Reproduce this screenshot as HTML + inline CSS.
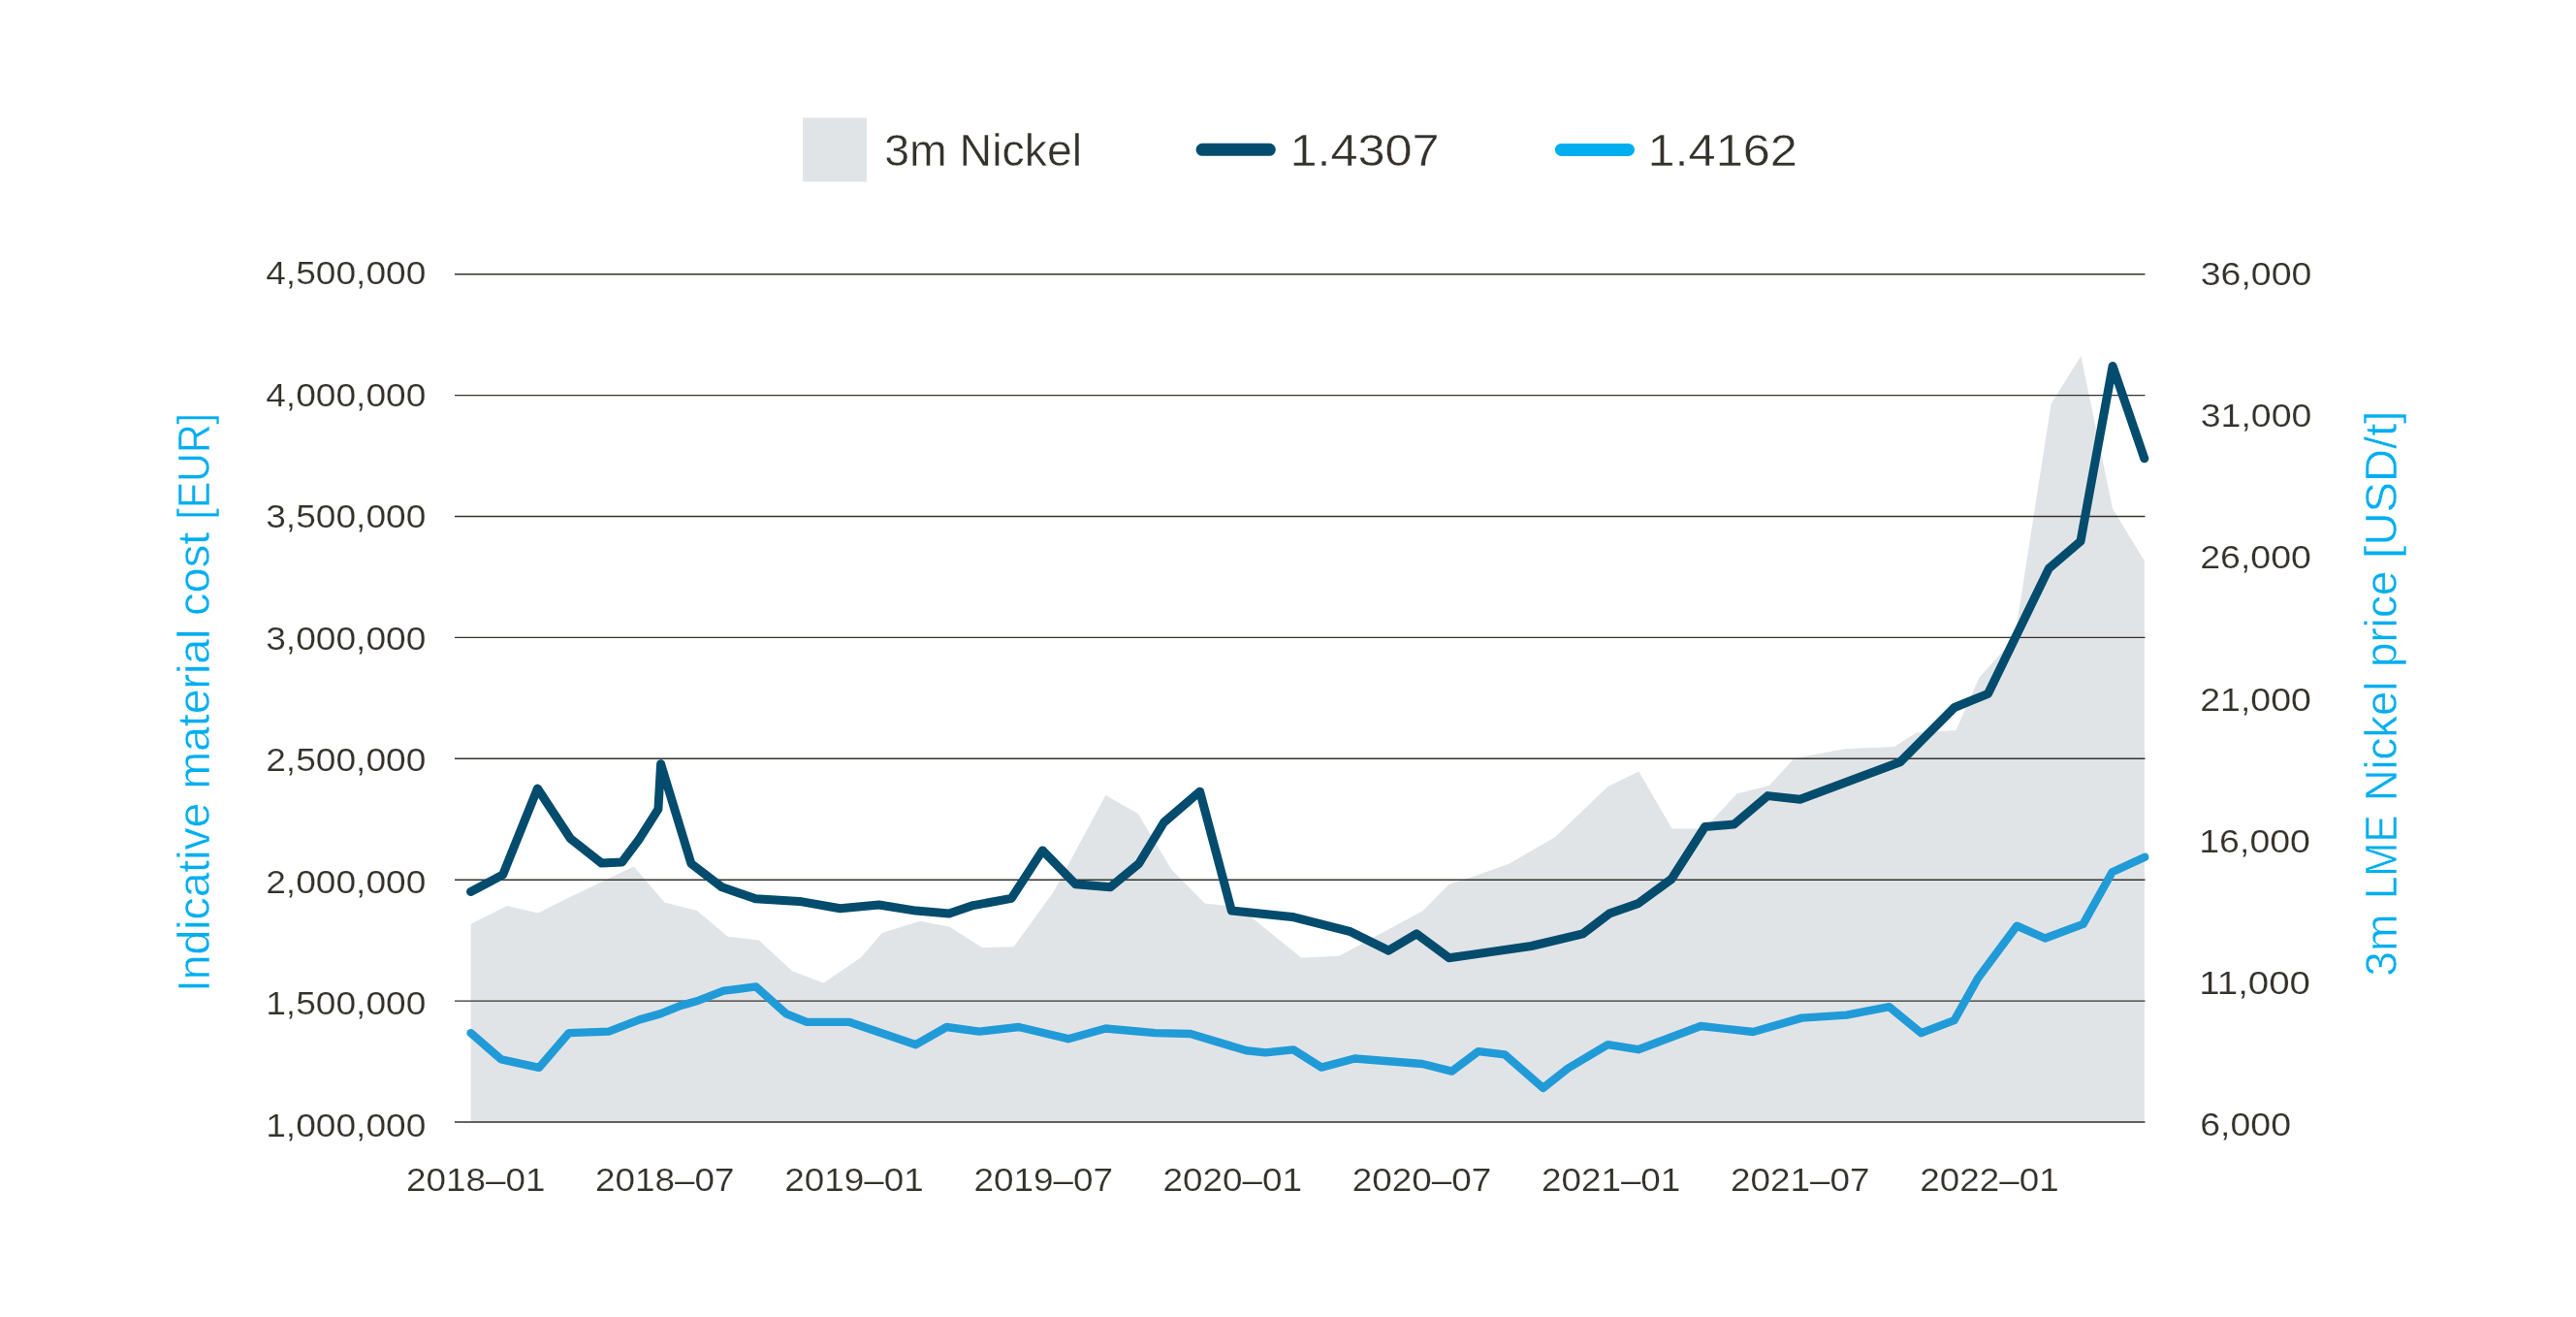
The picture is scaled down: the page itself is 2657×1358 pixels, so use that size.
<!DOCTYPE html>
<html><head><meta charset="utf-8"><title>Chart</title>
<style>html,body{margin:0;padding:0;background:#fff;}svg{display:block;will-change:transform;}text{font-family:"Liberation Sans", sans-serif;}</style>
</head><body>
<svg width="2657" height="1358" viewBox="0 0 2657 1358">
<rect width="2657" height="1358" fill="#fff"/>
<polygon points="485.6,952.8 523.1,934.0 555.0,941.5 589.9,923.9 627.9,905.7 653.7,893.6 685.5,930.6 719.0,939.1 750.8,965.8 782.7,969.5 817.1,1001.3 849.5,1013.5 888.4,987.1 909.6,961.9 949.1,949.7 979.5,955.8 1012.9,977.1 1045.7,976.2 1086.7,919.4 1140.4,820.1 1173.8,838.9 1208.2,896.4 1242.8,931.5 1278.0,935.5 1342.1,987.5 1381.3,985.7 1467.8,939.1 1494.5,911.8 1515.7,905.1 1556.7,890.5 1603.8,863.2 1658.4,811.0 1690.3,795.6 1724.6,854.6 1758.0,854.6 1791.4,818.5 1824.8,810.0 1850.6,782.1 1903.8,772.1 1953.9,769.9 1976.6,755.4 2017.6,752.9 2041.5,698.5 2078.0,658.0 2115.7,416.0 2146.4,367.0 2179.1,524.6 2212.0,578.4 2212.0,1157.0 485.6,1157.0" fill="#e1e4e7"/>
<line x1="469.0" y1="282.70" x2="2212.5" y2="282.70" stroke="#34322b" stroke-width="1.4"/>
<line x1="469.0" y1="407.60" x2="2212.5" y2="407.60" stroke="#34322b" stroke-width="1.4"/>
<line x1="469.0" y1="532.50" x2="2212.5" y2="532.50" stroke="#34322b" stroke-width="1.4"/>
<line x1="469.0" y1="657.40" x2="2212.5" y2="657.40" stroke="#34322b" stroke-width="1.4"/>
<line x1="469.0" y1="782.30" x2="2212.5" y2="782.30" stroke="#34322b" stroke-width="1.4"/>
<line x1="469.0" y1="907.20" x2="2212.5" y2="907.20" stroke="#34322b" stroke-width="1.4"/>
<line x1="469.0" y1="1032.10" x2="2212.5" y2="1032.10" stroke="#34322b" stroke-width="1.4"/>
<line x1="469.0" y1="1157.00" x2="2212.5" y2="1157.00" stroke="#34322b" stroke-width="1.4"/>
<polyline points="485.6,1065.1 517.0,1092.4 555.9,1100.9 586.9,1065.1 627.9,1063.6 659.7,1051.4 681.0,1045.4 702.2,1036.9 720.5,1031.7 746.3,1021.7 779.7,1017.4 811.0,1045.4 832.2,1053.9 876.3,1053.9 944.6,1077.2 976.4,1059.0 1009.8,1063.6 1050.8,1059.0 1101.9,1071.2 1140.4,1060.5 1191.4,1065.1 1227.9,1066.0 1285.5,1083.3 1305.3,1085.4 1334.1,1082.4 1363.0,1100.6 1397.3,1091.5 1467.1,1097.0 1497.5,1104.6 1524.8,1084.2 1552.1,1087.3 1591.6,1121.9 1617.4,1101.5 1658.4,1077.2 1689.7,1082.2 1754.3,1058.0 1808.2,1064.0 1858.3,1049.6 1904.6,1046.6 1948.7,1038.2 1981.6,1065.2 2015.6,1052.2 2040.2,1008.5 2080.2,954.7 2109.4,967.5 2148.6,952.9 2178.6,899.2 2212.3,883.7" fill="none" stroke="#219bd8" stroke-width="8.4" stroke-linejoin="round" stroke-linecap="round"/>
<polyline points="485.6,919.4 518.6,902.1 554.4,813.1 588.4,864.7 620.3,889.9 641.5,889.0 659.7,864.7 678.9,834.4 681.6,787.7 712.9,890.5 744.7,914.8 779.4,926.7 824.6,929.4 866.5,936.7 906.6,933.0 944.6,939.1 978.9,942.1 1003.8,933.6 1043.2,926.4 1075.3,876.9 1109.5,911.8 1145.3,914.8 1174.7,890.5 1200.5,848.0 1237.6,816.2 1270.3,939.1 1332.8,945.4 1392.0,960.3 1432.2,980.1 1461.1,962.8 1494.5,987.7 1579.5,975.5 1632.6,962.8 1659.9,942.1 1690.0,931.4 1724.0,906.5 1758.6,852.5 1788.4,850.1 1823.3,820.6 1856.7,824.3 1959.9,785.7 2015.9,729.5 2050.6,715.3 2113.3,586.1 2146.0,558.1 2179.1,377.4 2211.8,472.8" fill="none" stroke="#034c6d" stroke-width="9" stroke-linejoin="round" stroke-linecap="round"/>
<text x="274.22" y="293.49" font-size="33.5" fill="#34322b" stroke="#fff" stroke-width="0.18" textLength="165.13" lengthAdjust="spacingAndGlyphs">4,500,000</text>
<text x="274.22" y="418.93" font-size="33.5" fill="#34322b" stroke="#fff" stroke-width="0.18" textLength="165.13" lengthAdjust="spacingAndGlyphs">4,000,000</text>
<text x="274.22" y="544.36" font-size="33.5" fill="#34322b" stroke="#fff" stroke-width="0.18" textLength="165.13" lengthAdjust="spacingAndGlyphs">3,500,000</text>
<text x="274.22" y="669.80" font-size="33.5" fill="#34322b" stroke="#fff" stroke-width="0.18" textLength="165.13" lengthAdjust="spacingAndGlyphs">3,000,000</text>
<text x="274.22" y="795.23" font-size="33.5" fill="#34322b" stroke="#fff" stroke-width="0.18" textLength="165.13" lengthAdjust="spacingAndGlyphs">2,500,000</text>
<text x="274.22" y="920.67" font-size="33.5" fill="#34322b" stroke="#fff" stroke-width="0.18" textLength="165.13" lengthAdjust="spacingAndGlyphs">2,000,000</text>
<text x="274.22" y="1046.11" font-size="33.5" fill="#34322b" stroke="#fff" stroke-width="0.18" textLength="165.13" lengthAdjust="spacingAndGlyphs">1,500,000</text>
<text x="274.22" y="1171.54" font-size="33.5" fill="#34322b" stroke="#fff" stroke-width="0.18" textLength="165.13" lengthAdjust="spacingAndGlyphs">1,000,000</text>
<text x="2269.67" y="293.79" font-size="33.5" fill="#34322b" stroke="#fff" stroke-width="0.18" textLength="114.76" lengthAdjust="spacingAndGlyphs">36,000</text>
<text x="2269.67" y="440.05" font-size="33.5" fill="#34322b" stroke="#fff" stroke-width="0.18" textLength="114.76" lengthAdjust="spacingAndGlyphs">31,000</text>
<text x="2269.21" y="586.31" font-size="33.5" fill="#34322b" stroke="#fff" stroke-width="0.18" textLength="114.76" lengthAdjust="spacingAndGlyphs">26,000</text>
<text x="2269.21" y="732.57" font-size="33.5" fill="#34322b" stroke="#fff" stroke-width="0.18" textLength="114.76" lengthAdjust="spacingAndGlyphs">21,000</text>
<text x="2268.24" y="878.82" font-size="33.5" fill="#34322b" stroke="#fff" stroke-width="0.18" textLength="114.76" lengthAdjust="spacingAndGlyphs">16,000</text>
<text x="2268.24" y="1025.08" font-size="33.5" fill="#34322b" stroke="#fff" stroke-width="0.18" textLength="114.76" lengthAdjust="spacingAndGlyphs">11,000</text>
<text x="2269.19" y="1171.34" font-size="33.5" fill="#34322b" stroke="#fff" stroke-width="0.18" textLength="93.89" lengthAdjust="spacingAndGlyphs">6,000</text>
<text x="418.95" y="1227.70" font-size="33.5" fill="#34322b" stroke="#fff" stroke-width="0.18" textLength="143.46" lengthAdjust="spacingAndGlyphs">2018–01</text>
<text x="614.11" y="1227.70" font-size="33.5" fill="#34322b" stroke="#fff" stroke-width="0.18" textLength="143.46" lengthAdjust="spacingAndGlyphs">2018–07</text>
<text x="809.27" y="1227.70" font-size="33.5" fill="#34322b" stroke="#fff" stroke-width="0.18" textLength="143.46" lengthAdjust="spacingAndGlyphs">2019–01</text>
<text x="1004.43" y="1227.70" font-size="33.5" fill="#34322b" stroke="#fff" stroke-width="0.18" textLength="143.46" lengthAdjust="spacingAndGlyphs">2019–07</text>
<text x="1199.59" y="1227.70" font-size="33.5" fill="#34322b" stroke="#fff" stroke-width="0.18" textLength="143.46" lengthAdjust="spacingAndGlyphs">2020–01</text>
<text x="1394.75" y="1227.70" font-size="33.5" fill="#34322b" stroke="#fff" stroke-width="0.18" textLength="143.46" lengthAdjust="spacingAndGlyphs">2020–07</text>
<text x="1589.91" y="1227.70" font-size="33.5" fill="#34322b" stroke="#fff" stroke-width="0.18" textLength="143.46" lengthAdjust="spacingAndGlyphs">2021–01</text>
<text x="1785.07" y="1227.70" font-size="33.5" fill="#34322b" stroke="#fff" stroke-width="0.18" textLength="143.46" lengthAdjust="spacingAndGlyphs">2021–07</text>
<text x="1980.23" y="1227.70" font-size="33.5" fill="#34322b" stroke="#fff" stroke-width="0.18" textLength="143.46" lengthAdjust="spacingAndGlyphs">2022–01</text>
<rect x="828" y="121.4" width="66" height="66" fill="#e1e4e7"/>
<text x="912.13" y="171.20" font-size="47" fill="#34322b" stroke="#fff" stroke-width="0.43" textLength="203.98" lengthAdjust="spacingAndGlyphs">3m Nickel</text>
<line x1="1240.1" y1="154.3" x2="1309.3" y2="154.3" stroke="#034c6d" stroke-width="13" stroke-linecap="round"/>
<text x="1330.46" y="171.20" font-size="47" fill="#34322b" stroke="#fff" stroke-width="0.43" textLength="154.17" lengthAdjust="spacingAndGlyphs">1.4307</text>
<line x1="1610.4" y1="154.4" x2="1679.5" y2="154.4" stroke="#00aeef" stroke-width="13" stroke-linecap="round"/>
<text x="1699.45" y="171.20" font-size="47" fill="#34322b" stroke="#fff" stroke-width="0.43" textLength="154.49" lengthAdjust="spacingAndGlyphs">1.4162</text>
<text transform="translate(215.60,1023.07) rotate(-90)" x="0" y="0" font-size="46" fill="#00aeef" stroke="#fff" stroke-width="0.43" textLength="195.42" lengthAdjust="spacingAndGlyphs">Indicative</text>
<text transform="translate(215.60,813.58) rotate(-90)" x="0" y="0" font-size="46" fill="#00aeef" stroke="#fff" stroke-width="0.43" textLength="164.88" lengthAdjust="spacingAndGlyphs">material</text>
<text transform="translate(215.60,635.00) rotate(-90)" x="0" y="0" font-size="46" fill="#00aeef" stroke="#fff" stroke-width="0.43" textLength="86.45" lengthAdjust="spacingAndGlyphs">cost</text>
<text transform="translate(215.60,535.53) rotate(-90)" x="0" y="0" font-size="46" fill="#00aeef" stroke="#fff" stroke-width="0.43" textLength="109.56" lengthAdjust="spacingAndGlyphs">[EUR]</text>
<text transform="translate(2471.70,1006.66) rotate(-90)" x="0" y="0" font-size="46" fill="#00aeef" stroke="#fff" stroke-width="0.43" textLength="64.21" lengthAdjust="spacingAndGlyphs">3m</text>
<text transform="translate(2471.70,927.05) rotate(-90)" x="0" y="0" font-size="46" fill="#00aeef" stroke="#fff" stroke-width="0.43" textLength="86.56" lengthAdjust="spacingAndGlyphs">LME</text>
<text transform="translate(2471.70,826.33) rotate(-90)" x="0" y="0" font-size="46" fill="#00aeef" stroke="#fff" stroke-width="0.43" textLength="123.77" lengthAdjust="spacingAndGlyphs">Nickel</text>
<text transform="translate(2471.70,687.95) rotate(-90)" x="0" y="0" font-size="46" fill="#00aeef" stroke="#fff" stroke-width="0.43" textLength="99.18" lengthAdjust="spacingAndGlyphs">price</text>
<text transform="translate(2471.70,575.67) rotate(-90)" x="0" y="0" font-size="46" fill="#00aeef" stroke="#fff" stroke-width="0.43" textLength="152.13" lengthAdjust="spacingAndGlyphs">[USD/t]</text>
</svg>
</body></html>
